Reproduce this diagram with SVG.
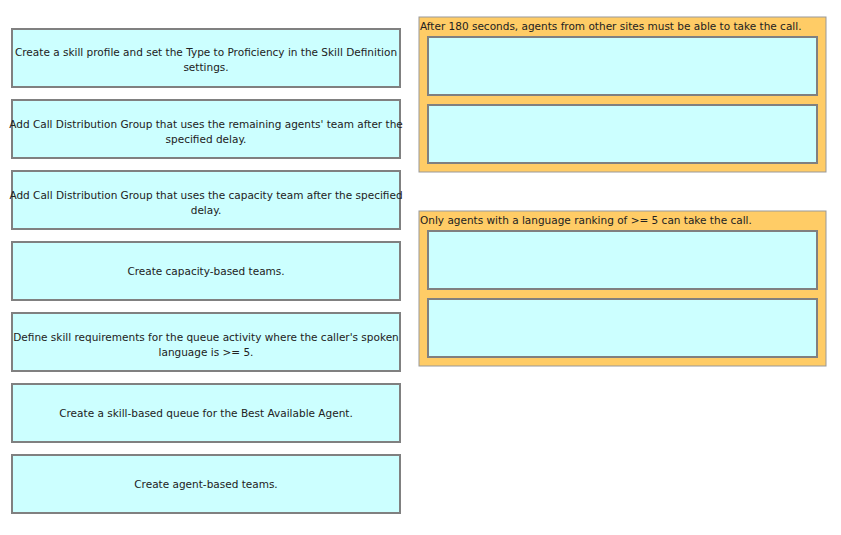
<svg xmlns="http://www.w3.org/2000/svg" width="841" height="535" viewBox="0 0 841 535">
<style>
.b{fill:#ccffff;stroke:#808080;stroke-width:2}
.c{fill:#ffcc66;stroke:#999;stroke-width:1}
text{font-family:"DejaVu Sans","Liberation Sans",sans-serif;font-size:10.5px;fill:#222}
.m{text-anchor:middle}
</style>
<rect width="841" height="535" fill="#fff"/>
<g id="n1"><rect class="b" x="12" y="29" width="388" height="58"/><text class="m" x="206" y="56">Create a skill profile and set the Type to Proficiency in the Skill Definition</text><text class="m" x="206" y="71">settings.</text></g>
<g id="n2"><rect class="b" x="12" y="100" width="388" height="58"/><text class="m" x="206" y="128">Add Call Distribution Group that uses the remaining agents' team after the</text><text class="m" x="206" y="143">specified delay.</text></g>
<g id="n3"><rect class="b" x="12" y="171" width="388" height="58"/><text class="m" x="206" y="199">Add Call Distribution Group that uses the capacity team after the specified</text><text class="m" x="206" y="214">delay.</text></g>
<g id="n4"><rect class="b" x="12" y="242" width="388" height="58"/><text class="m" x="206" y="275">Create capacity-based teams.</text></g>
<g id="n5"><rect class="b" x="12" y="313" width="388" height="58"/><text class="m" x="206" y="341">Define skill requirements for the queue activity where the caller's spoken</text><text class="m" x="206" y="356">language is &gt;= 5.</text></g>
<g id="n6"><rect class="b" x="12" y="384" width="388" height="58"/><text class="m" x="206" y="417">Create a skill-based queue for the Best Available Agent.</text></g>
<g id="n7"><rect class="b" x="12" y="455" width="388" height="58"/><text class="m" x="206" y="488">Create agent-based teams.</text></g>
<g id="t1"><rect class="c" x="419" y="17" width="407" height="155"/><text x="420" y="30">After 180 seconds, agents from other sites must be able to take the call.</text>
<rect class="b" x="428" y="37" width="389" height="58"/><rect class="b" x="428" y="105" width="389" height="58"/></g>
<g id="t2"><rect class="c" x="419" y="211" width="407" height="155"/><text x="420" y="224">Only agents with a language ranking of &gt;= 5 can take the call.</text>
<rect class="b" x="428" y="231" width="389" height="58"/><rect class="b" x="428" y="299" width="389" height="58"/></g>
<g id="connectors"/>
</svg>
